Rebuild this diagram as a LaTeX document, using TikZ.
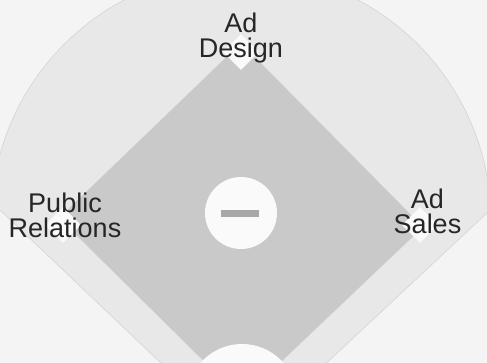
\documentclass[tikz,border=0pt]{standalone}
\usepackage{fontspec}
\setmainfont{Liberation Sans}
\usetikzlibrary{shapes.geometric}

\tikzset{every picture/.style={line width=0.75pt}}
\tikzset{
  basesq/.style={shape=diamond, inner sep=0pt, minimum size=27pt, fill={rgb, 255:red, 250; green, 250; blue, 250 }, draw=none},
  deptlabel/.style={inner sep=0pt, align=center, text={rgb, 255:red, 38; green, 38; blue, 38 }, font=\fontsize{20.25pt}{18.75pt}\selectfont},
}

\begin{document}
\begin{tikzpicture}[x=0.75pt,y=0.75pt,yscale=-1,xscale=1]
\useasboundingbox (0,0) rectangle (487,363);
\clip (0,0) rectangle (487,363);

% corners of the field
\coordinate (home) at (242,399);
\coordinate (first) at (423,227);
\coordinate (second) at (241,43);
\coordinate (third) at (59,218);

%Shape: Rectangle [background]
\fill [color={rgb, 255:red, 244; green, 244; blue, 244 }] (0,0) rectangle (487,363);

%Shape: Fan
\begin{scope}
  \clip (243,441) -- (-243,-21) -- (-243,-400) -- (731,-400) -- (731,-15) -- cycle;
  \fill [color={rgb, 255:red, 232; green, 232; blue, 232 }] (241,221) circle [radius=250];
  \draw [color={rgb, 255:red, 214; green, 214; blue, 214 }, line width=0.5pt] (241,221) circle [radius=250];
\end{scope}
\draw [color={rgb, 255:red, 214; green, 214; blue, 214 }, line width=0.5pt] (-243,-21) -- (243,441) -- (731,-15);

%Shape: Diamond
\fill [color={rgb, 255:red, 201; green, 201; blue, 201 }] (home) -- (first) -- (second) -- (third) -- cycle;

%Shape: Circle [home]
\fill [color={rgb, 255:red, 250; green, 250; blue, 250 }] (home) circle [radius=55];
%Shape: Circle [mound]
\fill [color={rgb, 255:red, 250; green, 250; blue, 250 }] (241,213) circle [radius=36];
%Shape: Rectangle [rubber]
\fill [color={rgb, 255:red, 168; green, 168; blue, 168 }] (221,210) rectangle (259,217);

% bases
\node (secondBase) [basesq] at (241,52) {};
\node (thirdBase) [basesq] at (63,225) {};
\node (firstBase) [basesq] at (420,225) {};

% Text Node
\node (adDesign) [deptlabel] at (241,38.5) {Ad\\Design};
% Text Node
\node (pubRel) [deptlabel] at (65,215.8) {Public\\Relations};
% Text Node
\node (adSales) [deptlabel] at (427.5,211.4) {Ad\\Sales};

\end{tikzpicture}
\end{document}
